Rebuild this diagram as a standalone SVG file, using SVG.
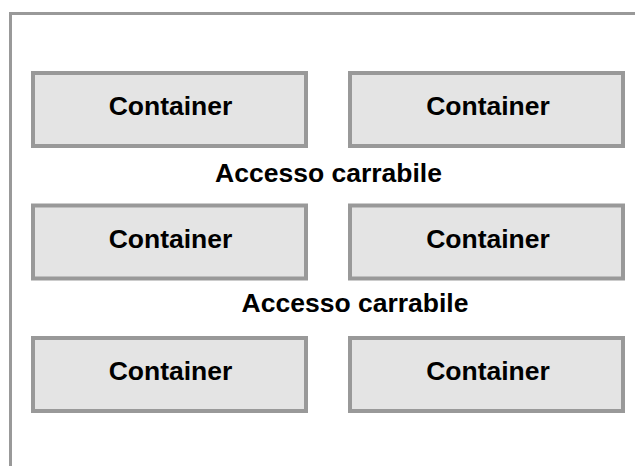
<svg xmlns="http://www.w3.org/2000/svg" width="635" height="466" viewBox="0 0 635 466">
<style>
.frame{fill:none;stroke:#999999;stroke-width:3}
.box{fill:#e4e4e4;stroke:#999999;stroke-width:4}
.t{font-family:"Liberation Sans",Arial,sans-serif;font-weight:bold;font-size:26.5px;fill:#000;text-anchor:middle}
</style>
<rect width="635" height="466" fill="#ffffff"/>
<g id="area">
<path class="frame" d="M10.5,466 V13.5 H635"/>
</g>
<g id="connectors"></g>
<g id="c1"><rect class="box" x="33" y="73" width="273" height="73"/><text class="t" x="170.5" y="115">Container</text></g>
<g id="c2"><rect class="box" x="350" y="73" width="273" height="73"/><text class="t" x="488" y="115">Container</text></g>
<g id="a1"><text class="t" x="328.5" y="181.7">Accesso carrabile</text></g>
<g id="c3"><rect class="box" x="33" y="205.5" width="273" height="73"/><text class="t" x="170.5" y="247.7">Container</text></g>
<g id="c4"><rect class="box" x="350" y="205.5" width="273" height="73"/><text class="t" x="488" y="247.7">Container</text></g>
<g id="a2"><text class="t" x="355" y="311.7">Accesso carrabile</text></g>
<g id="c5"><rect class="box" x="33" y="338" width="273" height="73"/><text class="t" x="170.5" y="380">Container</text></g>
<g id="c6"><rect class="box" x="350" y="338" width="273" height="73"/><text class="t" x="488" y="380">Container</text></g>
</svg>
